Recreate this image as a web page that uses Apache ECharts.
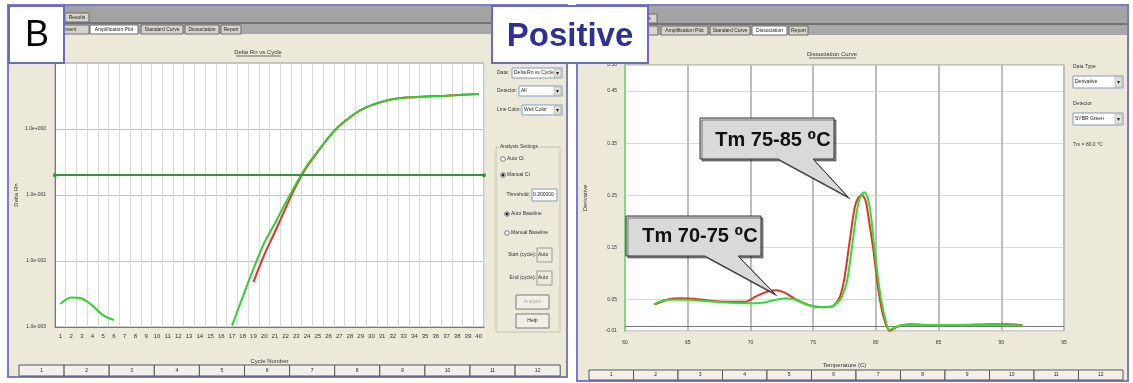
<!DOCTYPE html>
<html><head><meta charset="utf-8">
<script src="https://cdn.jsdelivr.net/npm/echarts@6/dist/echarts.min.js"></script>
<style>html,body{margin:0;padding:0;background:#fff}#c{width:1133px;height:383px}</style>
</head><body><div id="c"></div>
<script>
// ---------- data ----------
const cycles = ['1','2','3','4','5','6','7','8','9','10','11','12','13','14','15','16','17','18','19','20',
  '21','22','23','24','25','26','27','28','29','30','31','32','33','34','35','36','37','38','39','40'];
const amplGreen = [0.00224,0.0028,0.0027,0.0021,0.0015,0.00127,null,null,null,null,null,null,null,null,null,null,
  0.00105,0.00285,0.0076,0.0187,0.037,0.076,0.15,0.28,0.46,0.74,1.12,1.5,1.95,2.3,2.6,2.85,2.98,3.04,3.09,3.14,3.2,3.26,3.33,3.39];
const amplRed = [null,null,null,null,null,null,null,null,null,null,null,null,null,null,null,null,null,null,
  0.0048,0.0123,0.0275,0.063,0.14,0.27,0.45,0.74,1.11,1.5,1.93,2.28,2.58,2.83,2.98,3.04,3.1,3.15,3.2,3.27,3.34,3.4];
const threshold = 0.2;
const tempGreen = [62.3,63.3,64.8,67.2,69.8,70.9,72.8,73.6,74.6,75.7,76.5,77.0,77.3,77.7,78.1,78.5,78.8,79.1,79.5,79.9,80.3,80.7,81.1,81.6,82.2,84.1,86.7,89.4,91.7];
const derivGreen = [0.041,0.050,0.050,0.046,0.043,0.044,0.053,0.050,0.040,0.036,0.037,0.046,0.056,0.085,0.152,0.222,0.250,0.256,0.229,0.146,0.069,0.018,-0.008,-0.002,0.0015,0.0015,0.0015,0.0015,0.0005];
const tempRed = [62.4,63.5,64.5,65.5,67.2,69.6,70.4,71.4,72.1,72.8,73.6,74.6,75.7,76.5,76.9,77.2,77.5,77.9,78.3,78.6,78.9,79.2,79.4,79.8,80.2,80.6,81.1,81.6,82.2,82.7,84.0,86.7,89.2,90.5,91.7];
const derivRed = [0.041,0.051,0.053,0.052,0.047,0.046,0.056,0.066,0.068,0.0625,0.051,0.040,0.0355,0.037,0.046,0.060,0.092,0.160,0.225,0.246,0.250,0.238,0.210,0.146,0.069,0.018,-0.0095,-0.003,0.0015,0.003,0.0015,0.0015,0.003,0.003,0.001];
const derivTicks = [-0.01,0.05,0.15,0.25,0.35,0.45,0.50];
const wellLabels = ['1','2','3','4','5','6','7','8','9','10','11','12'];

// ---------- chrome helpers ----------
const F = '"Liberation Sans","DejaVu Sans",Arial,sans-serif';
const G = [];
function rect(x,y,w,h,fill,stroke,lw,z){G.push({type:'rect',silent:true,z:z==null?-5:z,shape:{x:x,y:y,width:w,height:h},style:{fill:fill,stroke:stroke||null,lineWidth:lw||0}});}
function line(x1,y1,x2,y2,stroke,lw,z){G.push({type:'line',silent:true,z:z==null?-5:z,shape:{x1:x1,y1:y1,x2:x2,y2:y2},style:{stroke:stroke,lineWidth:lw||1}});}
function text(x,y,s,size,opt){opt=opt||{};G.push({type:'text',silent:true,z:opt.z==null?-4:opt.z,x:x,y:y,style:{text:s,font:(opt.weight||'normal')+' '+size+'px '+F,fill:opt.fill||'#333',textAlign:opt.align||'left',textVerticalAlign:'middle'}});}
function circle(cx,cy,r,fill,stroke){G.push({type:'circle',silent:true,z:-4,shape:{cx:cx,cy:cy,r:r},style:{fill:fill,stroke:stroke,lineWidth:1}});}
function tab(x,y,w,h,label,sel){rect(x,y,w,h,sel?'#ffffff':'#D6D3CA','#6a6a6a',1);text(x+w/2,y+h/2,label,5,{align:'center',fill:'#222'});}
function dropdown(x,y,w,h,label){rect(x,y,w,h,'#ffffff','#7F9DB9',1);rect(x+w-8,y+1,7,h-2,'#E4E1D6','#9a9a9a',0.5);text(x+w-4.5,y+h/2,'\u25BE',6,{align:'center',fill:'#222'});text(x+2,y+h/2,label,5,{fill:'#222'});}
function radio(cx,cy,label,sel){circle(cx,cy,2.3,'#fff','#7a7a7a');if(sel)circle(cx,cy,1,'#111','#111');text(cx+4,cy,label,5);}
function button(x,y,w,h,label,dis){rect(x,y,w,h,'#F1EFE6','#7a7a7a',1);text(x+w/2,y+h/2,label,5,{align:'center',fill:dis?'#aaa':'#222'});}

// panels
rect(8,5,559,372,'#ECE9D8','#7B7BC6',2,-10);
rect(577,5,551,376,'#ECE9D8','#7B7BC6',2,-10);
rect(9,6,557,16,'#A3A3A3');rect(9,22,557,2,'#747474');rect(9,24,557,10,'#A8A8A8');
rect(578,6,549,17,'#A3A3A3');rect(578,23,549,2,'#747474');rect(578,25,549,10,'#A8A8A8');
// tabs left
tab(65,13,24,9,'Results',false);
tab(38,25,51,9,'Component',false);tab(90,25,48,9,'Amplification Plot',true);tab(141,25,42,9,'Standard Curve',false);
tab(185,25,34,9,'Dissociation',false);tab(221,25,20,9,'Report',false);
// tabs right
tab(628,14,29,9,'Results',false);
tab(610,26,48,9,'Component',false);tab(661,26,47,9,'Amplification Plot',false);tab(710,26,40,9,'Standard Curve',false);
tab(752,26,35,9,'Dissociation',true);tab(789,26,19,9,'Report',false);
// titles
text(258,52,'Delta Rn vs Cycle',6,{align:'center'});line(236,56,281,56,'#333',0.7);
text(832,54,'Dissociation Curve',6,{align:'center'});line(809,58,856,58,'#333',0.7);
// left controls
text(497,73,'Data:',5);dropdown(512,68,50,10,'Delta Rn vs Cycle');
text(497,91,'Detector:',5);dropdown(519,86,43,10,'All');
text(497,110,'Line Color:',5);dropdown(522,105,40,10,'Well Color');
rect(496,147,64,185,null,'#C5C0AC',1);rect(499,143,40,8,'#ECE9D8');text(500,147,'Analysis Settings',5);
radio(503,159,'Auto Ct',false);radio(503,175,'Manual Ct',true);
text(530,195,'Threshold:',5,{align:'right'});rect(532,189,25,12,'#fff','#7F9DB9',1);text(533,195,'0.200000',5,{fill:'#222'});
radio(507,214,'Auto Baseline',true);radio(507,233,'Manual Baseline',false);
text(536,255,'Start (cycle):',5,{align:'right'});rect(537,248,15,14,'#ECE9D8','#9a9a9a',1);text(538,255,'Auto',5);
text(536,278,'End (cycle):',5,{align:'right'});rect(537,271,15,14,'#ECE9D8','#9a9a9a',1);text(538,278,'Auto',5);
button(516,295,33,14,'Analyze',true);button(516,314,33,14,'Help',false);
// right controls
text(1073,67,'Data Type',5);dropdown(1073,76,50,12,'Derivative');
text(1073,104,'Detector',5);dropdown(1073,113,50,12,'SYBR Green');
text(1073,145,'Tm = 80.0 \u00B0C',5);
// well strips
wellLabels.forEach(function(l,i){
  const w1=45.1,x1=19+i*w1;rect(x1,365,w1,11,'#F2F0E8','#555',1);text(x1+w1/2,370.5,l,5,{align:'center',fill:'#222'});
  const w2=44.5,x2=589+i*w2;rect(x2,370,w2,10,'#F2F0E8','#555',1);text(x2+w2/2,375,l,5,{align:'center',fill:'#222'});
});
// label boxes
G.push({type:'rect',silent:true,z:100,shape:{x:9,y:6,width:55,height:57},style:{fill:'#fff',stroke:'#6A6AC0',lineWidth:2}});
text(37,36,'B',36,{align:'center',fill:'#000',z:101});
G.push({type:'rect',silent:true,z:100,shape:{x:492,y:6,width:156,height:57},style:{fill:'#fff',stroke:'#6A6AC0',lineWidth:2}});
text(570,37,'Positive',33,{align:'center',fill:'#2E3192',weight:'bold',z:101});
// callouts
function callout(pts,tx,ty,label){
  G.push({type:'polygon',silent:true,z:100,shape:{points:pts},style:{fill:'#D9D9D9',stroke:'#333',lineWidth:1,shadowColor:'rgba(0,0,0,0.45)',shadowOffsetX:2,shadowOffsetY:2}});
  text(tx,ty,label,20,{align:'center',fill:'#111',weight:'bold',z:101});
}
callout([[700,118],[834,118],[834,159],[813,159],[848,197],[778,159],[700,159]],773,140,'Tm 75-85 \u2070C');
callout([[626,216],[761,216],[761,256],[738,256],[775,294],[705,256],[626,256]],700,236,'Tm 70-75 \u2070C');

function sci(v){const e=Math.round(Math.log10(v));return '1.0e'+(e<0?'-':'+')+String(Math.abs(e)).padStart(3,'0');}

const chart = echarts.init(document.getElementById('c'),null,{renderer:'canvas'});
chart.setOption({
  animation:false,
  textStyle:{fontFamily:F},
  grid:[
    {left:55,top:63,width:429,height:264,show:true,backgroundColor:'#fff',borderColor:'#9a9a9a',borderWidth:1},
    {left:625,top:65,width:439,height:266,show:true,backgroundColor:'#fff',borderColor:'#9a9a9a',borderWidth:1}
  ],
  xAxis:[
    {type:'category',gridIndex:0,data:cycles,boundaryGap:true,axisTick:{show:false},
     axisLine:{lineStyle:{color:'#777'}},axisLabel:{fontSize:6,color:'#333',margin:6,interval:0},
     splitLine:{show:true,interval:0,lineStyle:{color:'#dadada'}},
     name:'Cycle Number',nameLocation:'middle',nameGap:31,nameTextStyle:{fontSize:6,color:'#333'}},
    {type:'value',gridIndex:1,min:60,max:95,interval:5,axisTick:{show:false},
     axisLine:{lineStyle:{color:'#777'}},axisLabel:{fontSize:5,color:'#333',margin:9},
     splitLine:{show:true,lineStyle:{color:'#bdbdbd',width:2}},
     name:'Temperature (C)',nameLocation:'middle',nameGap:31,nameTextStyle:{fontSize:6,color:'#333'}}
  ],
  yAxis:[
    {type:'log',gridIndex:0,logBase:10,min:0.001,max:10,axisTick:{show:false},
     axisLine:{show:true,lineStyle:{color:'#777'}},axisLabel:{fontSize:5,color:'#333',margin:9,formatter:sci},
     splitLine:{show:true,lineStyle:{color:'#c4c4c4'}},
     name:'Delta Rn',nameLocation:'middle',nameGap:36,nameTextStyle:{fontSize:6,color:'#333'}},
    {type:'value',gridIndex:1,min:-0.01,max:0.5,axisTick:{show:false,customValues:derivTicks},
     axisLine:{show:true,lineStyle:{color:'#86D486',width:2}},
     axisLabel:{customValues:derivTicks,fontSize:5,color:'#333',margin:8,formatter:function(v){return v.toFixed(2);}},
     splitLine:{show:true,lineStyle:{color:'#d9d9d9'}},
     name:'Derivative',nameLocation:'middle',nameGap:37,nameTextStyle:{fontSize:6,color:'#333'}}
  ],
  series:[
    {type:'line',xAxisIndex:0,yAxisIndex:0,data:amplRed,symbol:'none',smooth:0.3,color:'#E5302A',lineStyle:{width:2}},
    {type:'line',xAxisIndex:0,yAxisIndex:0,data:amplGreen,symbol:'none',smooth:0.3,color:'#2FCF2F',lineStyle:{width:2},
     markLine:{silent:true,symbol:['circle','circle'],symbolSize:4,label:{show:false},
       lineStyle:{color:'#2E9A2E',width:2,type:'solid'},data:[{yAxis:threshold}]}},
    {type:'line',xAxisIndex:1,yAxisIndex:1,data:tempRed.map(function(t,i){return [t,derivRed[i]];}),symbol:'none',smooth:0.3,color:'#E5302A',lineStyle:{width:2}},
    {type:'line',xAxisIndex:1,yAxisIndex:1,data:tempGreen.map(function(t,i){return [t,derivGreen[i]];}),symbol:'none',smooth:0.3,color:'#2FDF2F',lineStyle:{width:2}}
  ],
  graphic:{elements:G}
});
</script></body></html>
